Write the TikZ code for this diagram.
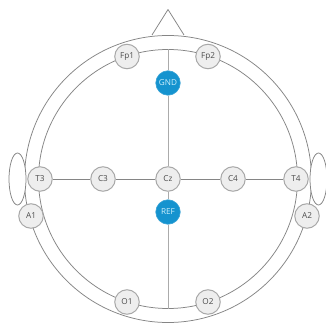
\documentclass[tikz,border=0pt]{standalone}
\usepackage{fontspec}
\setmainfont{Open Sans}
\definecolor{hline}{HTML}{858585}
\definecolor{wire}{HTML}{ABABAB}
\definecolor{padfill}{HTML}{EEEEEE}
\definecolor{padedge}{HTML}{A8A8A8}
\definecolor{gndblue}{HTML}{1593CF}
\tikzset{
  head/.style={draw=hline,line width=0.75pt},
  wireline/.style={draw=wire,line width=1pt},
  pad/.style={circle,draw=padedge,fill=padfill,line width=1pt,minimum size=24.5pt,inner sep=0pt,text=black!70,font=\fontsize{8.2}{9}\selectfont},
  refpad/.style={circle,draw=gndblue!85!white,fill=gndblue,line width=0.6pt,minimum size=24.5pt,inner sep=0pt,text=white!80!cyan,font=\fontsize{8.2}{9}\selectfont}
}
\begin{document}
\begin{tikzpicture}[x=1pt,y=-1pt]
\useasboundingbox (0,0) rectangle (326,323);
\fill[white] (0,0) rectangle (326,323);
% nose
\coordinate (noseL) at (152,35);
\coordinate (noseT) at (168,9.5);
\coordinate (noseR) at (184,35);
\draw[head,line join=round] (noseL) -- (noseT) -- (noseR);
% head
\coordinate (centre) at (168,179);
\draw[head] (centre) circle[radius=143.5];
\draw[head] (centre) circle[radius=129.5];
% ears
\draw[head,fill=white] (17.5,179) ellipse[x radius=8.5,y radius=26];
\draw[head,fill=white] (318.5,179) ellipse[x radius=8.5,y radius=26];
% vertical line ends
\coordinate (midTop) at (168,49.5);
\coordinate (midBot) at (168,308.5);
% pads
\node[pad] (Fp1) at (127,56.5) {Fp1};
\node[pad] (Fp2) at (208,56.5) {Fp2};
\node[pad] (T3) at (40,179) {T3};
\node[pad] (C3) at (103,179) {C3};
\node[pad] (Cz) at (168,179) {Cz};
\node[pad] (C4) at (233,179) {C4};
\node[pad] (T4) at (296,179) {T4};
\node[pad] (A1) at (31,216) {A1};
\node[pad] (A2) at (307,216) {A2};
\node[pad] (O1) at (127,302) {O1};
\node[pad] (O2) at (208,302) {O2};
\node[refpad] (GND) at (168,83) {GND};
\node[refpad] (REF) at (168,212) {REF};
% connectors
\draw[wireline] (midTop) -- (GND);
\draw[wireline] (GND) -- (Cz);
\draw[wireline] (Cz) -- (REF);
\draw[wireline] (REF) -- (midBot);
\draw[head] (T3) -- (C3);
\draw[head] (C3) -- (Cz);
\draw[head] (Cz) -- (C4);
\draw[head] (C4) -- (T4);
\end{tikzpicture}
\end{document}
